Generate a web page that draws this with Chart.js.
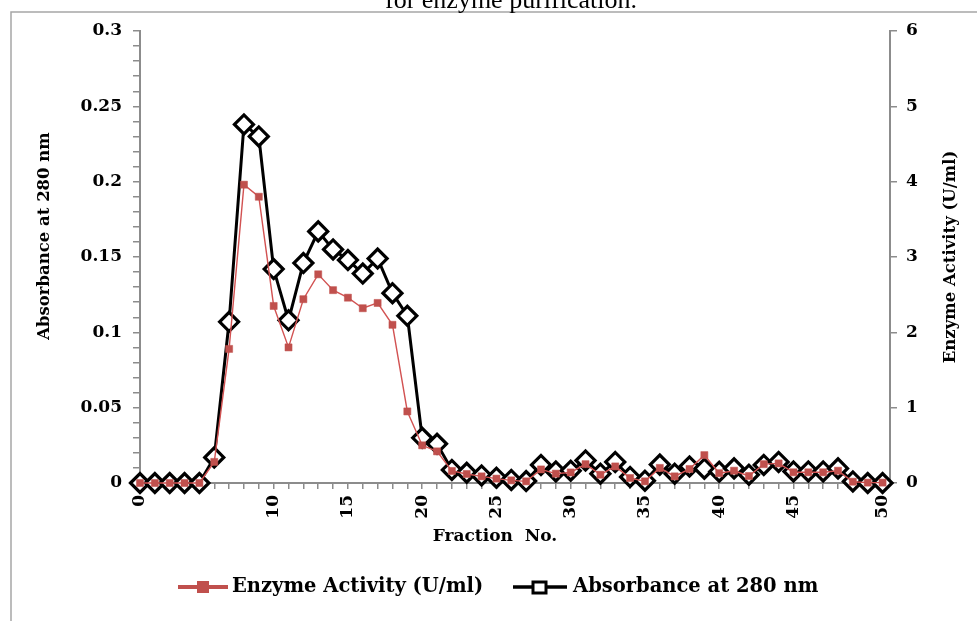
<!DOCTYPE html>
<html>
<head>
<meta charset="utf-8">
<script src="https://cdn.jsdelivr.net/npm/chart.js@4.4.0/dist/chart.umd.min.js"></script>
<style>
  html, body { margin: 0; padding: 0; background: #ffffff; }
  #wrap { position: relative; width: 977px; height: 621px; overflow: hidden; background: #ffffff; }
  canvas { display: block; }
</style>
</head>
<body>
<div id="wrap"><canvas id="chart" width="977" height="621"></canvas></div>
<script>
// Fraction numbers eluted from the column
const fractions = [
  0, 1, 2, 3, 4, 5, 6, 7, 8, 9,
  10, 11, 12, 13, 14, 15, 16, 17, 18, 19,
  20, 21, 22, 23, 24, 25, 26, 27, 28, 29,
  30, 31, 32, 33, 34, 35, 36, 37, 38, 39,
  40, 41, 42, 43, 44, 45, 46, 47, 48, 49,
  50
];

// Protein elution profile, absorbance at 280 nm (left axis)
const absorbance280 = [
  0, 0, 0, 0, 0, 0.017, 0.107, 0.238, 0.230, 0.142,
  0.108, 0.146, 0.167, 0.155, 0.148, 0.139, 0.149, 0.126, 0.111, 0.030,
  0.026, 0.0087, 0.0068, 0.005, 0.0035, 0.002, 0.0013, 0.012, 0.0077, 0.0082,
  0.015, 0.0062, 0.014, 0.004, 0.0015, 0.0122, 0.0062, 0.011, 0.0095, 0.0075,
  0.0097, 0.0055, 0.012, 0.014, 0.0077, 0.0077, 0.0077, 0.0097, 0.001, 0,
  0
];

// Enzyme activity of each fraction, U/ml (right axis)
const enzymeActivity = [
  0, 0, 0, 0, 0, 0.28, 1.78, 3.96, 3.80, 2.35,
  1.80, 2.44, 2.77, 2.56, 2.46, 2.32, 2.39, 2.10, 0.95, 0.50,
  0.42, 0.16, 0.12, 0.088, 0.058, 0.035, 0.022, 0.18, 0.124, 0.14,
  0.25, 0.11, 0.22, 0.066, 0.022, 0.20, 0.088, 0.186, 0.37, 0.13,
  0.163, 0.093, 0.25, 0.26, 0.142, 0.142, 0.142, 0.163, 0.017, 0.005,
  0.005
];

// Labelled ticks along the fraction axis
const xTickPositions = [0, 9, 14, 19, 24, 29, 34, 39, 44, 50];
const xTickLabels = ['0', '10', '15', '20', '25', '30', '35', '40', '45', '50'];

// Left axis ticks (minor every 0.01, labelled every 0.05) and right axis ticks
const absorbanceTicks = [0, 0.01, 0.02, 0.03, 0.04, 0.05, 0.06, 0.07, 0.08, 0.09, 0.1,
  0.11, 0.12, 0.13, 0.14, 0.15, 0.16, 0.17, 0.18, 0.19, 0.2,
  0.21, 0.22, 0.23, 0.24, 0.25, 0.26, 0.27, 0.28, 0.29, 0.3];
const absorbanceLabels = ['0', '0.05', '0.1', '0.15', '0.2', '0.25', '0.3'];
const activityLabels = ['0', '1', '2', '3', '4', '5', '6'];

const SERIF = '"DejaVu Serif", "Liberation Serif", serif';
const AXIS_GREY = '#8c8c8c';
const RED = '#c0504d';

const toPoints = (ys) => fractions.map((f, i) => ({ x: f, y: ys[i] }));

// Titles, legend, frame and caption drawn around the plot
const decorations = {
  id: 'decorations',
  afterDraw(chart) {
    const ctx = chart.ctx;
    ctx.save();

    // frame
    ctx.strokeStyle = '#a6a6a6';
    ctx.lineWidth = 1.5;
    ctx.beginPath();
    ctx.moveTo(11, 621);
    ctx.lineTo(11, 12);
    ctx.lineTo(977, 12);
    ctx.stroke();

    // caption running off the top edge
    ctx.fillStyle = '#000';
    ctx.font = '26px "Liberation Serif", serif';
    ctx.textAlign = 'left';
    ctx.textBaseline = 'alphabetic';
    ctx.fillText('for enzyme purification.', 385, 8);

    // axis titles
    ctx.font = 'bold 17px ' + SERIF;
    ctx.textAlign = 'center';
    ctx.textBaseline = 'middle';
    ctx.fillText('Fraction  No.', 495, 537);

    ctx.font = 'bold 16.5px ' + SERIF;
    ctx.save();
    ctx.translate(45, 236);
    ctx.rotate(-Math.PI / 2);
    ctx.fillText('Absorbance at 280 nm', 0, 0);
    ctx.restore();

    ctx.save();
    ctx.translate(951, 257);
    ctx.rotate(-Math.PI / 2);
    ctx.fillText('Enzyme Activity (U/ml)', 0, 0);
    ctx.restore();

    // legend
    const ly = 587;
    const ds = chart.data.datasets;
    ctx.font = 'bold 19.5px ' + SERIF;
    ctx.textAlign = 'left';

    ctx.strokeStyle = RED;
    ctx.lineWidth = 4;
    ctx.beginPath(); ctx.moveTo(178, ly); ctx.lineTo(228, ly); ctx.stroke();
    ctx.fillStyle = RED;
    ctx.fillRect(197, ly - 6, 12, 12);
    ctx.fillStyle = '#000';
    ctx.fillText(ds[0].label, 232, ly);

    ctx.strokeStyle = '#000';
    ctx.lineWidth = 3.5;
    ctx.beginPath(); ctx.moveTo(513, ly); ctx.lineTo(567, ly); ctx.stroke();
    ctx.fillStyle = '#fff';
    ctx.fillRect(533, ly - 5, 13, 11);
    ctx.lineWidth = 3;
    ctx.strokeRect(533, ly - 5, 13, 11);
    ctx.fillStyle = '#000';
    ctx.fillText(ds[1].label, 573, ly);

    ctx.restore();
  }
};

new Chart(document.getElementById('chart'), {
  type: 'line',
  data: {
    datasets: [
      {
        label: 'Enzyme Activity (U/ml)',
        data: toPoints(enzymeActivity),
        yAxisID: 'yAct',
        borderColor: '#d25252',
        borderWidth: 1.4,
        pointStyle: 'rect',
        pointRadius: 5,
        pointBackgroundColor: RED,
        pointBorderColor: RED,
        pointBorderWidth: 0.5,
        tension: 0,
        clip: false,
        order: 0
      },
      {
        label: 'Absorbance at 280 nm',
        data: toPoints(absorbance280),
        yAxisID: 'yAbs',
        borderColor: '#000',
        borderWidth: 3,
        pointStyle: 'rectRot',
        pointRadius: 9.5,
        pointBackgroundColor: '#fff',
        pointBorderColor: '#000',
        pointBorderWidth: 3.2,
        tension: 0,
        clip: false,
        order: 1
      }
    ]
  },
  options: {
    responsive: false,
    animation: false,
    events: [],
    layout: { padding: { top: 31, bottom: 0, left: 0, right: 0 } },
    plugins: {
      legend: { display: false },
      tooltip: { enabled: false },
      title: { display: false }
    },
    scales: {
      x: {
        type: 'linear',
        min: 0,
        max: 50.5,
        afterBuildTicks: (s) => { s.ticks = fractions.map(v => ({ value: v })); },
        afterFit: (s) => { s.height = 138; },
        ticks: {
          autoSkip: false,
          minRotation: 90,
          maxRotation: 90,
          padding: 6,
          color: '#000',
          font: { family: SERIF, size: 17, weight: 'bold' },
          callback: (v) => {
            const k = xTickPositions.indexOf(v);
            return k < 0 ? '' : xTickLabels[k];
          }
        },
        grid: { drawOnChartArea: false, tickLength: 6, color: AXIS_GREY, lineWidth: 1.5 },
        border: { color: AXIS_GREY, width: 2 }
      },
      yAbs: {
        type: 'linear',
        position: 'left',
        min: 0,
        max: 0.3,
        afterBuildTicks: (s) => { s.ticks = absorbanceTicks.map(v => ({ value: v })); },
        afterFit: (s) => { s.width = 140; },
        ticks: {
          autoSkip: false,
          padding: 11,
          color: '#000',
          font: { family: SERIF, size: 17, weight: 'bold' },
          callback: (v, i) => (i % 5 === 0 ? absorbanceLabels[i / 5] : '')
        },
        grid: { drawOnChartArea: false, tickLength: 7, color: AXIS_GREY, lineWidth: 1.5 },
        border: { color: AXIS_GREY, width: 2 }
      },
      yAct: {
        type: 'linear',
        position: 'right',
        min: 0,
        max: 6,
        afterBuildTicks: (s) => { s.ticks = activityLabels.map(v => ({ value: Number(v) })); },
        afterFit: (s) => { s.width = 87; },
        ticks: {
          autoSkip: false,
          padding: 9,
          color: '#000',
          font: { family: SERIF, size: 17, weight: 'bold' },
          callback: (v, i) => activityLabels[i]
        },
        grid: { drawOnChartArea: false, tickLength: 7, color: AXIS_GREY, lineWidth: 1.5 },
        border: { color: AXIS_GREY, width: 2 }
      }
    }
  },
  plugins: [decorations]
});
</script>
</body>
</html>
